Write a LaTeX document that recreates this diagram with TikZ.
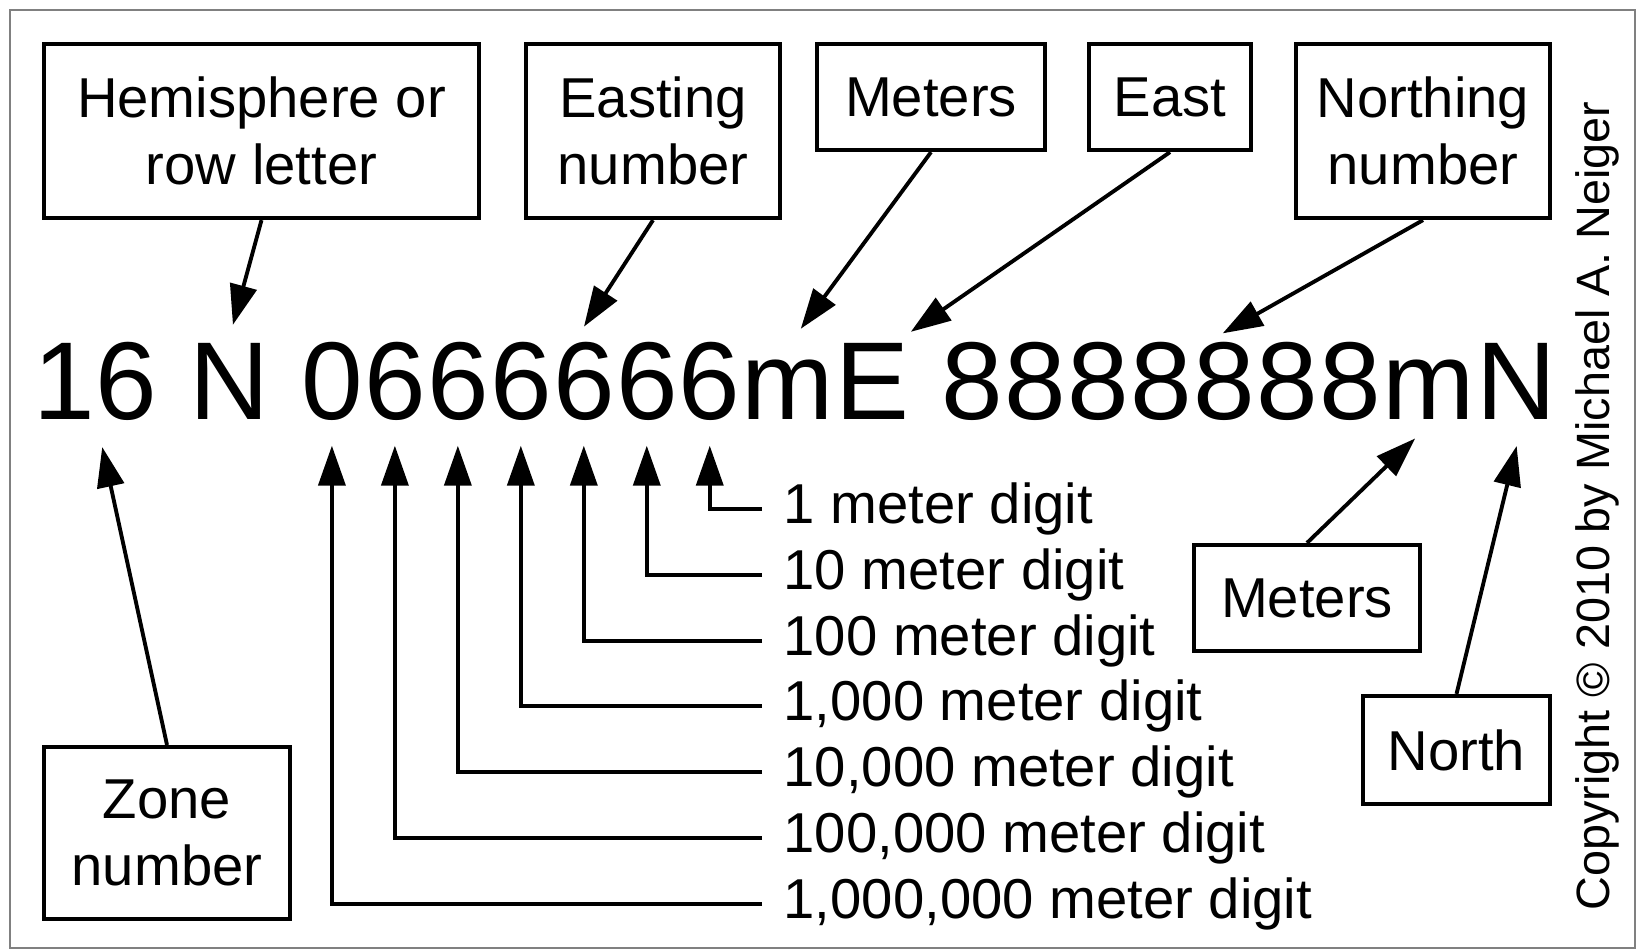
\documentclass[tikz,border=0pt]{standalone}
\usepackage{fontspec}
\setmainfont{Liberation Sans}
\usetikzlibrary{arrows.meta,positioning}
\begin{document}
\begin{tikzpicture}[x=0.1mm,y=-0.1mm,
	box/.style={draw, line width=1.2pt, align=center, inner sep=0pt, font=\fontsize{16}{19}\selectfont},
	big/.style={inner sep=0pt, anchor=base west, text height=22.5pt, text depth=0pt, font=\fontsize{31.5}{38}\selectfont},
	digitlabel/.style={anchor=west, inner sep=0pt, inner xsep=2.1mm, font=\fontsize{16}{19}\selectfont},
	arr/.style={line width=1.1pt, -{Triangle[length=4mm,width=2.7mm]}}]
	\useasboundingbox (0,0) rectangle (1642,951);
	\draw[gray, line width=0.8pt] (10,10) rectangle (1635,948);
	\node[big] (zn) at (33,419) {16};
	\node[big] (hN) at ([xshift=8.75pt]zn.base east) {N};
	\node[big] (e0) at ([xshift=8.75pt]hN.base east) {0};
	\foreach \i [remember=\i as \j (initially 0)] in {1,...,6}
		\node[big] (e\i) at (e\j.base east) {6};
	\node[big] (m1) at (e6.base east) {m};
	\node[big] (E1) at (m1.base east) {E};
	\node[big] (n0) at ([xshift=8.75pt]E1.base east) {8};
	\foreach \i [remember=\i as \j (initially 0)] in {1,...,6}
		\node[big] (n\i) at (n\j.base east) {8};
	\node[big] (m2) at (n6.base east) {m};
	\node[big] (N2) at (m2.base east) {N};
	\node[box, minimum width=43.5mm, minimum height=17.4mm] (hemi) at (261.5,131) {Hemisphere or\\row letter};
	\node[box, minimum width=25.4mm, minimum height=17.4mm] (easting) at (653,131) {Easting\\number};
	\node[box, minimum width=22.8mm, minimum height=10.6mm] (mtop) at (931,97) {Meters};
	\node[box, minimum width=16.2mm, minimum height=10.6mm] (eastdir) at (1170,97) {East};
	\node[box, minimum width=25.4mm, minimum height=17.4mm] (northing) at (1423,131) {Northing\\number};
	\node[box, minimum width=24.6mm, minimum height=17.2mm] (zone) at (167,833) {Zone\\number};
	\node[box, minimum width=22.6mm, minimum height=10.6mm] (mbot) at (1307,598) {Meters};
	\node[box, minimum width=18.7mm, minimum height=10.8mm] (northdir) at (1456.5,750) {North};
	\node[rotate=90, inner sep=0pt, font=\fontsize{13.3}{16}\selectfont] (copy) at (1597,506) {Copyright © 2010 by Michael A. Neiger};
	\draw[arr, shorten >=1.5mm] (hemi.south) -- (hN.north);
	\draw[arr, shorten >=1.5mm] (easting.south) -- ([xshift=-0.8mm]e4.north);
	\draw[arr, shorten >=1.3mm] (mtop.south) -- ([xshift=0.5mm]m1.north);
	\draw[arr, shorten >=1.3mm] (eastdir.south) -- ([xshift=-1mm]E1.north east);
	\draw[arr, shorten >=1.2mm] (northing.south) -- ([xshift=-1.2mm]n4.north);
	\draw[arr, shorten >=2.8mm] (zone.north) -- ([xshift=0.1mm]zn.south);
	\draw[arr, shorten >=2.7mm] (mbot.north) -- ([xshift=0.6mm]m2.south);
	\draw[arr, shorten >=2.7mm] (northdir.north) -- ([xshift=0.7mm]N2.south);
	\foreach \t [count=\i from 0] in {1,10,100,{1,000},{10,000},{100,000},{1,000,000}} {
		\pgfmathtruncatemacro\k{6-\i}
		\node[digitlabel] (l\i) at (762,{509+65.8*\i}) {\t\ meter digit};
		\draw[arr, shorten >=2.6mm] (l\i.west) -| (e\k.south);
	}
\end{tikzpicture}
\end{document}
